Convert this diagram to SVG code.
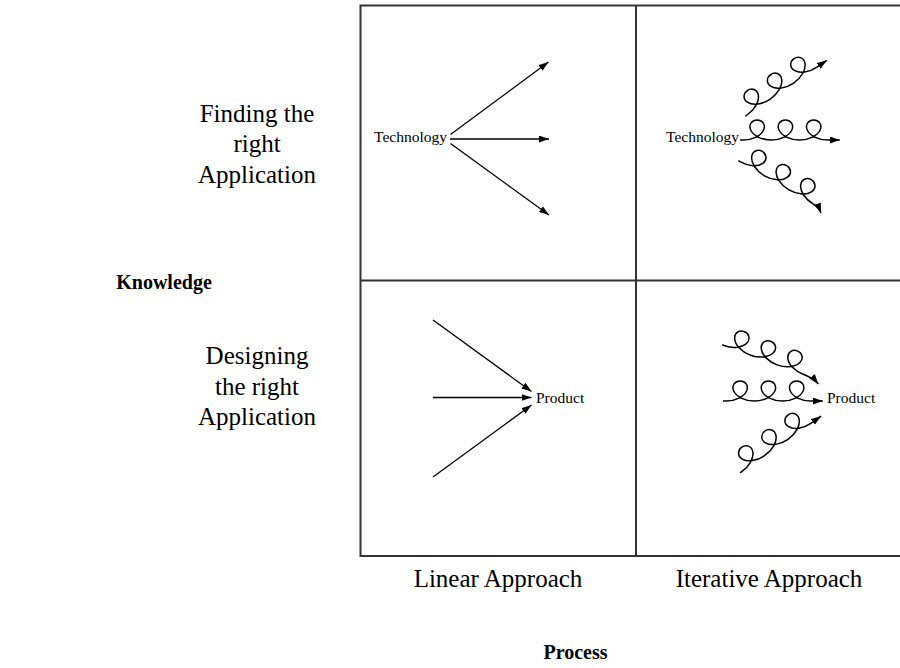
<svg xmlns="http://www.w3.org/2000/svg" width="900" height="668" viewBox="0 0 900 668">
<style>
.lbl{font-family:"Liberation Serif","Times New Roman",serif;font-size:25px;fill:#000}
.hd{font-family:"Liberation Serif","Times New Roman",serif;font-size:20px;font-weight:bold;fill:#000}
.sm{font-family:"Liberation Serif","Times New Roman",serif;font-size:15.5px;fill:#000}
.grid{fill:none;stroke:#333;stroke-width:2}
.ar{fill:none;stroke:#000;stroke-width:1.3;marker-end:url(#ah)}
.cu{fill:none;stroke:#000;stroke-width:1.5;marker-end:url(#ah)}
</style>
<defs>
<marker id="ah" markerUnits="userSpaceOnUse" markerWidth="10" markerHeight="7" refX="10" refY="3.5" orient="auto">
<path d="M0,0 L10,3.5 L0,7 z" fill="#000"/>
</marker>
</defs>
<rect width="900" height="668" fill="#fff"/>

<g id="grid">
<rect class="grid" x="360.5" y="5.5" width="542" height="550.5"/>
<line class="grid" x1="636" y1="5.5" x2="636" y2="556"/>
<line class="grid" x1="360.5" y1="280.5" x2="902" y2="280.5"/>
</g>

<g id="row-labels">
<text class="lbl" text-anchor="middle" x="257" y="121.5">Finding the</text>
<text class="lbl" text-anchor="middle" x="257" y="152">right</text>
<text class="lbl" text-anchor="middle" x="257" y="182.5">Application</text>
<text class="lbl" text-anchor="middle" x="257" y="364">Designing</text>
<text class="lbl" text-anchor="middle" x="257" y="394.5">the right</text>
<text class="lbl" text-anchor="middle" x="257" y="425">Application</text>
<text class="hd" text-anchor="middle" x="164" y="289">Knowledge</text>
</g>

<g id="col-labels">
<text class="lbl" text-anchor="middle" x="498" y="587">Linear Approach</text>
<text class="lbl" text-anchor="middle" x="769" y="587">Iterative Approach</text>
<text class="hd" text-anchor="middle" x="575.5" y="659">Process</text>
</g>

<g id="linear-technology">
<text class="sm" text-anchor="end" x="447" y="142">Technology</text>
</g>
<g id="iterative-technology">
<text class="sm" text-anchor="end" x="739" y="142">Technology</text>
</g>
<g id="linear-product">
<text class="sm" x="536" y="403">Product</text>
</g>
<g id="iterative-product">
<text class="sm" x="827" y="403">Product</text>
</g>

<g id="connectors">
<line class="ar" x1="450.5" y1="134.5" x2="548.5" y2="62"/>
<line class="ar" x1="450" y1="139" x2="549" y2="139"/>
<line class="ar" x1="450.5" y1="143.5" x2="549" y2="215"/>
<line class="ar" x1="433" y1="320" x2="531.5" y2="391.5"/>
<line class="ar" x1="433" y1="397.5" x2="531.5" y2="397.5"/>
<line class="ar" x1="433" y1="477" x2="531.5" y2="405"/>
<path class="cu" transform="translate(747,115) rotate(-34.4)" d="M-2,0 h2 c4.712,0 9.403,-1.078 13.08,-2.929 c3.677,-1.851 6.31,-4.453 7.488,-7.071 c1.178,-2.618 0.902,-5.22 -0.419,-7.071 c-1.321,-1.851 -3.656,-2.929 -6.012,-2.929 c-2.356,0 -4.691,1.078 -6.012,2.929 c-1.321,1.851 -1.597,4.453 -0.419,7.071 c1.178,2.618 3.811,5.22 7.488,7.071 c3.677,1.851 8.368,2.929 13.08,2.929 c4.712,0 9.403,-1.078 13.08,-2.929 c3.677,-1.851 6.31,-4.453 7.488,-7.071 c1.178,-2.618 0.902,-5.22 -0.419,-7.071 c-1.321,-1.851 -3.656,-2.929 -6.012,-2.929 c-2.356,0 -4.691,1.078 -6.012,2.929 c-1.321,1.851 -1.597,4.453 -0.419,7.071 c1.178,2.618 3.811,5.22 7.488,7.071 c3.677,1.851 8.368,2.929 13.08,2.929 c4.712,0 9.403,-1.078 13.08,-2.929 c3.677,-1.851 6.31,-4.453 7.488,-7.071 c1.178,-2.618 0.902,-5.22 -0.419,-7.071 c-1.321,-1.851 -3.656,-2.929 -6.012,-2.929 c-2.356,0 -4.691,1.078 -6.012,2.929 c-1.321,1.851 -1.597,4.453 -0.419,7.071 c1.178,2.618 3.811,5.22 7.488,7.071 c3.677,1.851 8.368,2.929 13.08,2.929 l12,0"/>
<path class="cu" transform="translate(743,140)" d="M-3,0 h3 c4.712,0 9.403,-1.078 13.08,-2.929 c3.677,-1.851 6.31,-4.453 7.488,-7.071 c1.178,-2.618 0.902,-5.22 -0.419,-7.071 c-1.321,-1.851 -3.656,-2.929 -6.012,-2.929 c-2.356,0 -4.691,1.078 -6.012,2.929 c-1.321,1.851 -1.597,4.453 -0.419,7.071 c1.178,2.618 3.811,5.22 7.488,7.071 c3.677,1.851 8.368,2.929 13.08,2.929 c4.712,0 9.403,-1.078 13.08,-2.929 c3.677,-1.851 6.31,-4.453 7.488,-7.071 c1.178,-2.618 0.902,-5.22 -0.419,-7.071 c-1.321,-1.851 -3.656,-2.929 -6.012,-2.929 c-2.356,0 -4.691,1.078 -6.012,2.929 c-1.321,1.851 -1.597,4.453 -0.419,7.071 c1.178,2.618 3.811,5.22 7.488,7.071 c3.677,1.851 8.368,2.929 13.08,2.929 c4.712,0 9.403,-1.078 13.08,-2.929 c3.677,-1.851 6.31,-4.453 7.488,-7.071 c1.178,-2.618 0.902,-5.22 -0.419,-7.071 c-1.321,-1.851 -3.656,-2.929 -6.012,-2.929 c-2.356,0 -4.691,1.078 -6.012,2.929 c-1.321,1.851 -1.597,4.453 -0.419,7.071 c1.178,2.618 3.811,5.22 7.488,7.071 c3.677,1.851 8.368,2.929 13.08,2.929 l12,0"/>
<path class="cu" transform="translate(740,161.7) rotate(30)" d="M-2,0 h2 c4.712,0 9.403,-1.078 13.08,-2.929 c3.677,-1.851 6.31,-4.453 7.488,-7.071 c1.178,-2.618 0.902,-5.22 -0.419,-7.071 c-1.321,-1.851 -3.656,-2.929 -6.012,-2.929 c-2.356,0 -4.691,1.078 -6.012,2.929 c-1.321,1.851 -1.597,4.453 -0.419,7.071 c1.178,2.618 3.811,5.22 7.488,7.071 c3.677,1.851 8.368,2.929 13.08,2.929 c4.712,0 9.403,-1.078 13.08,-2.929 c3.677,-1.851 6.31,-4.453 7.488,-7.071 c1.178,-2.618 0.902,-5.22 -0.419,-7.071 c-1.321,-1.851 -3.656,-2.929 -6.012,-2.929 c-2.356,0 -4.691,1.078 -6.012,2.929 c-1.321,1.851 -1.597,4.453 -0.419,7.071 c1.178,2.618 3.811,5.22 7.488,7.071 c3.677,1.851 8.368,2.929 13.08,2.929 c4.712,0 9.403,-1.078 13.08,-2.929 c3.677,-1.851 6.31,-4.453 7.488,-7.071 c1.178,-2.618 0.902,-5.22 -0.419,-7.071 c-1.321,-1.851 -3.656,-2.929 -6.012,-2.929 c-2.356,0 -4.691,1.078 -6.012,2.929 c-1.321,1.851 -1.597,4.453 -0.419,7.071 c1.178,2.618 3.811,5.22 7.488,7.071 c3.677,1.851 8.368,2.929 13.08,2.929 c4,0 8,1.5 11,4"/>
<path class="cu" transform="translate(724,345.5) rotate(20)" d="M-2,0 h2 c4.712,0 9.403,-1.078 13.08,-2.929 c3.677,-1.851 6.31,-4.453 7.488,-7.071 c1.178,-2.618 0.902,-5.22 -0.419,-7.071 c-1.321,-1.851 -3.656,-2.929 -6.012,-2.929 c-2.356,0 -4.691,1.078 -6.012,2.929 c-1.321,1.851 -1.597,4.453 -0.419,7.071 c1.178,2.618 3.811,5.22 7.488,7.071 c3.677,1.851 8.368,2.929 13.08,2.929 c4.712,0 9.403,-1.078 13.08,-2.929 c3.677,-1.851 6.31,-4.453 7.488,-7.071 c1.178,-2.618 0.902,-5.22 -0.419,-7.071 c-1.321,-1.851 -3.656,-2.929 -6.012,-2.929 c-2.356,0 -4.691,1.078 -6.012,2.929 c-1.321,1.851 -1.597,4.453 -0.419,7.071 c1.178,2.618 3.811,5.22 7.488,7.071 c3.677,1.851 8.368,2.929 13.08,2.929 c4.712,0 9.403,-1.078 13.08,-2.929 c3.677,-1.851 6.31,-4.453 7.488,-7.071 c1.178,-2.618 0.902,-5.22 -0.419,-7.071 c-1.321,-1.851 -3.656,-2.929 -6.012,-2.929 c-2.356,0 -4.691,1.078 -6.012,2.929 c-1.321,1.851 -1.597,4.453 -0.419,7.071 c1.178,2.618 3.811,5.22 7.488,7.071 c3.677,1.851 8.368,2.929 13.08,2.929 c6,0 12,1 17,4"/>
<path class="cu" transform="translate(726,401)" d="M-3,0 h3 c4.712,0 9.403,-1.078 13.08,-2.929 c3.677,-1.851 6.31,-4.453 7.488,-7.071 c1.178,-2.618 0.902,-5.22 -0.419,-7.071 c-1.321,-1.851 -3.656,-2.929 -6.012,-2.929 c-2.356,0 -4.691,1.078 -6.012,2.929 c-1.321,1.851 -1.597,4.453 -0.419,7.071 c1.178,2.618 3.811,5.22 7.488,7.071 c3.677,1.851 8.368,2.929 13.08,2.929 c4.712,0 9.403,-1.078 13.08,-2.929 c3.677,-1.851 6.31,-4.453 7.488,-7.071 c1.178,-2.618 0.902,-5.22 -0.419,-7.071 c-1.321,-1.851 -3.656,-2.929 -6.012,-2.929 c-2.356,0 -4.691,1.078 -6.012,2.929 c-1.321,1.851 -1.597,4.453 -0.419,7.071 c1.178,2.618 3.811,5.22 7.488,7.071 c3.677,1.851 8.368,2.929 13.08,2.929 c4.712,0 9.403,-1.078 13.08,-2.929 c3.677,-1.851 6.31,-4.453 7.488,-7.071 c1.178,-2.618 0.902,-5.22 -0.419,-7.071 c-1.321,-1.851 -3.656,-2.929 -6.012,-2.929 c-2.356,0 -4.691,1.078 -6.012,2.929 c-1.321,1.851 -1.597,4.453 -0.419,7.071 c1.178,2.618 3.811,5.22 7.488,7.071 c3.677,1.851 8.368,2.929 13.08,2.929 l12,0"/>
<path class="cu" transform="translate(741.7,471.7) rotate(-35)" d="M-2,0 h2 c4.712,0 9.403,-1.078 13.08,-2.929 c3.677,-1.851 6.31,-4.453 7.488,-7.071 c1.178,-2.618 0.902,-5.22 -0.419,-7.071 c-1.321,-1.851 -3.656,-2.929 -6.012,-2.929 c-2.356,0 -4.691,1.078 -6.012,2.929 c-1.321,1.851 -1.597,4.453 -0.419,7.071 c1.178,2.618 3.811,5.22 7.488,7.071 c3.677,1.851 8.368,2.929 13.08,2.929 c4.712,0 9.403,-1.078 13.08,-2.929 c3.677,-1.851 6.31,-4.453 7.488,-7.071 c1.178,-2.618 0.902,-5.22 -0.419,-7.071 c-1.321,-1.851 -3.656,-2.929 -6.012,-2.929 c-2.356,0 -4.691,1.078 -6.012,2.929 c-1.321,1.851 -1.597,4.453 -0.419,7.071 c1.178,2.618 3.811,5.22 7.488,7.071 c3.677,1.851 8.368,2.929 13.08,2.929 c4.712,0 9.403,-1.078 13.08,-2.929 c3.677,-1.851 6.31,-4.453 7.488,-7.071 c1.178,-2.618 0.902,-5.22 -0.419,-7.071 c-1.321,-1.851 -3.656,-2.929 -6.012,-2.929 c-2.356,0 -4.691,1.078 -6.012,2.929 c-1.321,1.851 -1.597,4.453 -0.419,7.071 c1.178,2.618 3.811,5.22 7.488,7.071 c3.677,1.851 8.368,2.929 13.08,2.929 l12,0"/>
</g>
</svg>
